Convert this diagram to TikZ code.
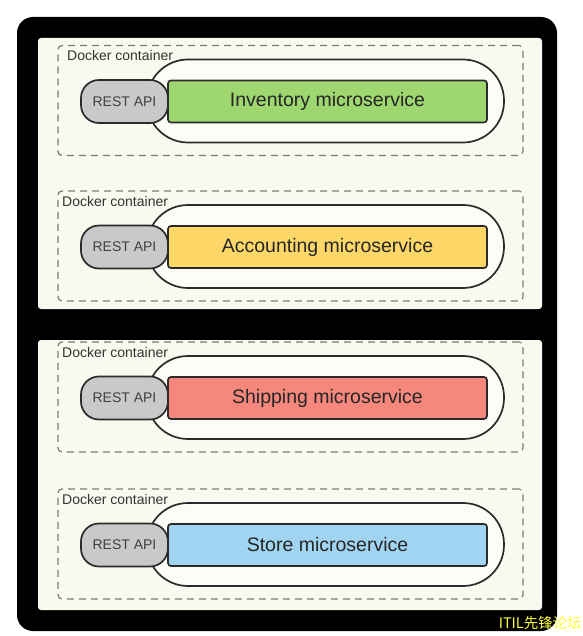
\documentclass[tikz,border=0pt]{standalone}
\usepackage{fontspec}
\setmainfont{Liberation Sans}
\newfontfamily\cjk{Noto Sans CJK SC}
\definecolor{cream}{HTML}{F9F9EF}
\definecolor{stadfill}{HTML}{FDFDF7}
\definecolor{dashgray}{HTML}{7A7A7A}
\definecolor{apigray}{HTML}{C9C9C9}
\definecolor{edge}{HTML}{2B2B2B}
\definecolor{svgreen}{HTML}{9ED670}
\definecolor{svyellow}{HTML}{FDD868}
\definecolor{svred}{HTML}{F5877D}
\definecolor{svblue}{HTML}{A1D4F0}
\definecolor{wmyellow}{HTML}{FFFF3A}
\tikzset{
  panelbox/.style={fill=cream, draw=none, rounded corners=3pt},
  container/.style={rectangle, draw=dashgray, line width=1.2pt, dash pattern=on 7pt off 5pt,
    rounded corners=4pt, inner sep=0pt, minimum width=465pt, minimum height=110pt},
  stadium/.style={rectangle, draw=edge, fill=stadfill, line width=1.7pt, rounded corners=41pt,
    inner sep=0pt, minimum width=357pt, minimum height=83pt},
  restapi/.style={rectangle, draw=edge, fill=apigray, line width=1.7pt, rounded corners=18pt,
    inner sep=0pt, minimum width=87pt, minimum height=43pt, text=black!75,
    font=\fontsize{14}{16}\selectfont},
  service/.style={rectangle, draw=edge, line width=1.7pt, rounded corners=3pt,
    inner sep=0pt, minimum width=319pt, minimum height=42pt, text=black!85,
    font=\fontsize{19.5}{22}\selectfont},
  dlabel/.style={anchor=west, inner sep=0pt, text=black!80, font=\fontsize{14}{16}\selectfont},
}
\newcommand\msrow[5]{%
  \node[container] (#1cont) at (290.5,#2-1) {};
  \node[stadium] (#1stad) at (325.5,#2-0.5) {};
  \node[service, fill=#3] (#1svc) at (327.5,#2) {#4};
  \node[restapi] (#1api) at (124.5,#2) {REST API};
  \node[dlabel] (#1lab) at (#5,#2-46) {Docker container};
}
\begin{document}
\begin{tikzpicture}[x=1pt,y=-1pt]
  \fill[white] (0,0) rectangle (582,636);
  \useasboundingbox (0,0) rectangle (582,636);
  \fill[black, rounded corners=16pt] (17,17) rectangle (557,631);
  \fill[panelbox] (38,38) rectangle (542,309);
  \fill[panelbox] (38,340) rectangle (542,610);
  \msrow{inv}{101.5}{svgreen}{Inventory microservice}{67}
  \msrow{acc}{247}{svyellow}{Accounting microservice}{62}
  \msrow{shp}{398}{svred}{Shipping microservice}{62}
  \msrow{sto}{545}{svblue}{Store microservice}{62}
  \node[anchor=east, inner sep=0pt, text=wmyellow, font=\cjk\fontsize{14.5}{16}\selectfont] (wm) at (582,623) {ITIL先锋论坛};
\end{tikzpicture}
\end{document}
